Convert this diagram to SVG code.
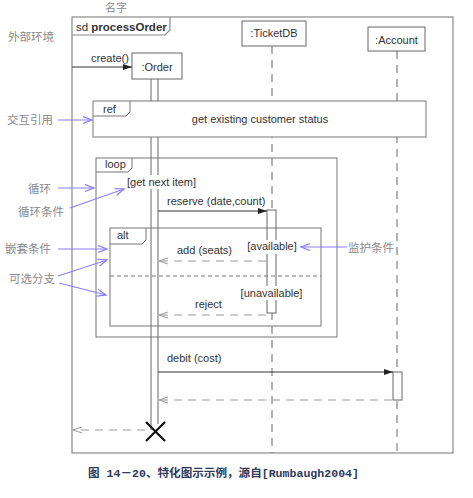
<svg xmlns="http://www.w3.org/2000/svg" width="473" height="498" viewBox="0 0 473 498">
<defs>
<style>
.t{font-family:"Liberation Sans",Arial,sans-serif;font-size:11px;fill:#333}
.b{font-weight:bold;font-size:11.5px}
.cn{font-family:"Noto Sans CJK SC",sans-serif;font-size:11.5px;fill:#8a8a8a}
.cap{font-family:"Liberation Mono","Noto Sans CJK SC",monospace;font-size:11px;fill:#2e3a58;font-weight:bold}
.frame{fill:none;stroke:#8a8a8a;stroke-width:1.2}
.box{fill:#fff;stroke:#666;stroke-width:1}
.life{stroke:#666;stroke-width:1;stroke-dasharray:8,6;fill:none}
.act{stroke:#666;stroke-width:1;fill:none}
.msg{stroke:#333;stroke-width:1;fill:none;marker-end:url(#fill)}
.ret{stroke:#999;stroke-width:1.2;stroke-dasharray:8,6;fill:none;marker-end:url(#open)}
.ann{stroke:#8a7cff;stroke-width:1.2;fill:none;marker-end:url(#blue)}
.sep{stroke:#777;stroke-width:1;stroke-dasharray:4,3;fill:none}
</style>
<marker id="fill" markerUnits="userSpaceOnUse" markerWidth="10" markerHeight="8" refX="9" refY="3.5" orient="auto"><path d="M0,0.5 L9,3.5 L0,6.5 z" fill="#222"/></marker>
<marker id="open" markerUnits="userSpaceOnUse" markerWidth="10" markerHeight="8" refX="9" refY="3.5" orient="auto"><path d="M0,0.5 L9,3.5 L0,6.5" fill="none" stroke="#999" stroke-width="1"/></marker>
<marker id="blue" markerUnits="userSpaceOnUse" markerWidth="11" markerHeight="9" refX="9" refY="4" orient="auto"><path d="M0,0.5 L9,4 L0,7.5" fill="none" stroke="#8a7cff" stroke-width="1.2"/></marker>
</defs>
<rect width="473" height="498" fill="#fff"/>

<g id="lifelines">
<line class="life" x1="272" y1="46" x2="272" y2="453"/>
<line class="life" x1="397" y1="51" x2="397" y2="453"/>
<line class="act" x1="151" y1="79" x2="151" y2="430"/>
<line class="act" x1="158" y1="79" x2="158" y2="424"/>
</g>

<g id="sd-frame">
<rect class="frame" x="72" y="17" width="381" height="436"/>
<path class="frame" d="M72,35 L165,35 L170,30 L170,17"/>
<text class="t b" x="76" y="31" style="font-weight:normal">sd <tspan font-weight="bold">processOrder</tspan></text>
</g>

<g id="order">
<rect class="box" x="132" y="53" width="50" height="26"/>
<text class="t" x="157" y="71" text-anchor="middle">:Order</text>
<path d="M146,422 L165,441 M165,422 L146,441" stroke="#111" stroke-width="2.2" fill="none"/>
</g>

<g id="ticketdb">
<rect class="box" x="242" y="21" width="64" height="25"/>
<text class="t" x="274" y="37" text-anchor="middle">:TicketDB</text>
<rect class="box" x="267" y="210" width="9" height="103"/>
</g>

<g id="account">
<rect class="box" x="368" y="27" width="57" height="24"/>
<text class="t" x="396.5" y="44" text-anchor="middle">:Account</text>
<rect class="box" x="393" y="372" width="9" height="28"/>
</g>

<g id="ref">
<rect x="93" y="101" width="333" height="36" fill="#fff" stroke="#777" stroke-width="1"/>
<path d="M93,116 L126,116 L130,112 L130,101" fill="none" stroke="#777" stroke-width="1"/>
<text class="t" x="103" y="113">ref</text>
<text class="t" x="260" y="123" text-anchor="middle">get existing customer status</text>
</g>

<g id="loop">
<rect x="96" y="158" width="241" height="179" fill="none" stroke="#777" stroke-width="1"/>
<path d="M96,172 L128,172 L132,168 L132,158" fill="none" stroke="#777" stroke-width="1"/>
<text class="t" x="105" y="168">loop</text>
<rect x="126" y="175" width="74" height="14" fill="#fff"/>
<text class="t" x="127" y="186">[get next item]</text>
</g>

<g id="alt">
<rect x="110" y="228" width="211" height="98" fill="none" stroke="#777" stroke-width="1"/>
<path d="M110,244 L142,244 L146,240 L146,228" fill="none" stroke="#777" stroke-width="1"/>
<text class="t" x="117" y="239">alt</text>
<line class="sep" x1="110" y1="276" x2="321" y2="276"/>
<rect x="246" y="240" width="52" height="14" fill="#fff"/>
<text class="t" x="272" y="250" text-anchor="middle">[available]</text>
<rect x="239" y="286" width="65" height="14" fill="#fff"/>
<text class="t" x="271.5" y="297" text-anchor="middle">[unavailable]</text>
</g>

<g id="connectors">
<line class="msg" x1="72" y1="67" x2="132" y2="67"/>
<line class="msg" x1="158" y1="211" x2="267" y2="211"/>
<line class="ret" x1="266" y1="261" x2="159" y2="261"/>
<line class="ret" x1="266" y1="315" x2="159" y2="315"/>
<line class="msg" x1="158" y1="372" x2="393" y2="372"/>
<line class="ret" x1="392" y1="400" x2="159" y2="400"/>
<line class="ret" x1="145" y1="430" x2="73" y2="430"/>
<line class="ann" x1="58" y1="120" x2="92" y2="120"/>
<line class="ann" x1="58" y1="188" x2="94" y2="188"/>
<line class="ann" x1="70" y1="208" x2="124" y2="189"/>
<line class="ann" x1="58" y1="249" x2="107" y2="249"/>
<line class="ann" x1="58" y1="276" x2="107" y2="260"/>
<line class="ann" x1="59" y1="283" x2="106" y2="295"/>
<line class="ann" x1="347" y1="247" x2="301" y2="247"/>
</g>

<g id="labels">
<text class="t" x="91" y="62">create()</text>
<text class="t" x="167" y="205">reserve (date,count)</text>
<text class="t" x="177" y="254">add (seats)</text>
<text class="t" x="195" y="308">reject</text>
<text class="t" x="167" y="362">debit (cost)</text>
</g>

<g id="annotations">
<text class="cn" x="116" y="12" text-anchor="middle" style="font-size:11px">名字</text>
<text class="cn" x="8" y="41">外部环境</text>
<text class="cn" x="7" y="124">交互引用</text>
<text class="cn" x="28" y="193">循环</text>
<text class="cn" x="18" y="216">循环条件</text>
<text class="cn" x="5" y="253">嵌套条件</text>
<text class="cn" x="9" y="283">可选分支</text>
<text class="cn" x="348" y="252">监护条件</text>
</g>

<text class="cap" x="88" y="477" textLength="271" lengthAdjust="spacingAndGlyphs">图 14－20、特化图示示例，源自[Rumbaugh2004]</text>
</svg>
